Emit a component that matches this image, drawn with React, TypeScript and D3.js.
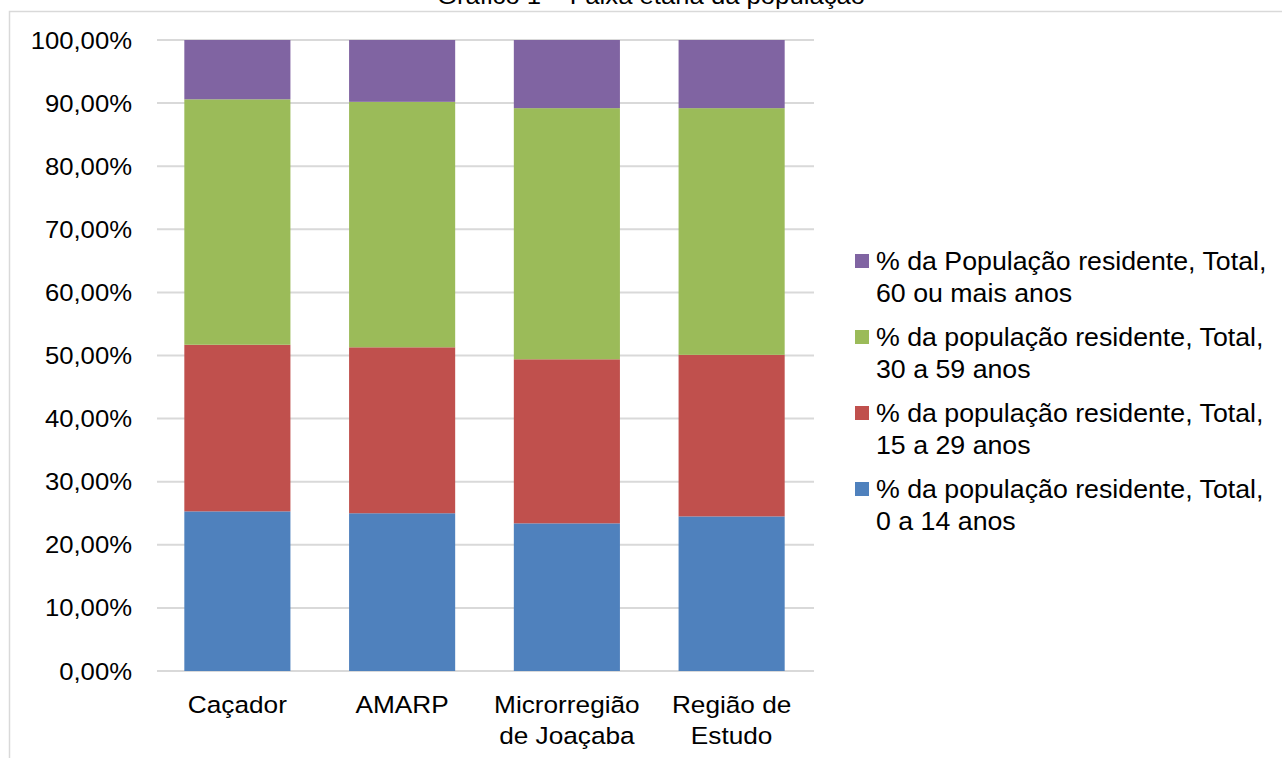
import React from "react";
import * as d3 from "d3";

const categories: string[][] = [["Caçador"], ["AMARP"], ["Microrregião", "de Joaçaba"], ["Região de", "Estudo"]];
const seriesNames: string[][] = [
  ["% da população residente, Total,", "0 a 14 anos"],
  ["% da população residente, Total,", "15 a 29 anos"],
  ["% da população residente, Total,", "30 a 59 anos"],
  ["% da População residente, Total,", "60 ou mais anos"],
];
const colors = ["#4f81bd", "#c0504d", "#9bbb59", "#8064a2"];
const age0to14 = [25.3, 25.0, 23.4, 24.5];
const age15to29 = [26.4, 26.3, 26.0, 25.6];
const age30to59 = [38.9, 38.9, 39.8, 39.1];
const age60plus = [9.4, 9.8, 10.8, 10.8];
const tickValues = [0, 10, 20, 30, 40, 50, 60, 70, 80, 90, 100];
const title = "Gráfico 1 – Faixa etária da população";

const W = 1282, H = 758;
const FONT = "Arial, 'Liberation Sans', sans-serif";
const FS = 24;
const SX = 1.07;

export default function App() {
  const left = 155, right = 814, top = 40, bottom = 671;
  const x = d3.scaleBand<number>().domain(d3.range(categories.length)).range([left, right]).paddingInner(0.356).paddingOuter(0.178);
  const y = d3.scaleLinear().domain([0, 100]).range([bottom, top]);
  const series = [age0to14, age15to29, age30to59, age60plus];
  const rows = categories.map((_, i) => ({ i, s0: series[0][i], s1: series[1][i], s2: series[2][i], s3: series[3][i] }));
  const stack = d3.stack<any>().keys(["s0", "s1", "s2", "s3"]);
  const stacked = stack(rows);
  const fmt = (v: number) => v.toFixed(2).replace(".", ",") + "%";
  const T = (px: number, py: number, txt: string, anchor: string, key: any, fs: number = FS, sx: number = SX) => (
    <g key={key} transform={`translate(${px},${py}) scale(${sx},1)`}>
      <text textAnchor={anchor as any} fontSize={fs} fontFamily={FONT} fill="#000">{txt}</text>
    </g>
  );
  return (
    <svg width={W} height={H} style={{ position: "absolute", left: 0, top: 0 }}>
      <rect x={0} y={0} width={W} height={H} fill="#fff" />
      <rect x={9.5} y={11.5} width={W + 20} height={H + 20} fill="none" stroke="#d9d9d9" strokeWidth={1.5} />
      {T(651, 4, title, "middle", "title")}
      {tickValues.map((t) => (
        <line key={"g" + t} x1={left + 2} x2={right} y1={y(t)} y2={y(t)} stroke="#d9d9d9" strokeWidth={2} />
      ))}
      {tickValues.map((t) => T(132, y(t) + 8.5, fmt(t), "end", "t" + t))}
      {stacked.map((layer, si) => (
        <g key={"s" + si} fill={colors[si]}>
          {layer.map((d, ci) => (
            <rect key={ci} x={x(ci)} width={x.bandwidth()} y={y(d[1])} height={y(d[0]) - y(d[1])} />
          ))}
        </g>
      ))}
      {categories.map((lines, ci) =>
        lines.map((ln, li) => T((x(ci) as number) + x.bandwidth() / 2, 713 + li * 31, ln, "middle", `c${ci}-${li}`, 24.5))
      )}
      {[3, 2, 1, 0].map((si, k) => {
        const cy = 261 + k * 76;
        return (
          <g key={"l" + si}>
            <rect x={855} y={cy - 7} width={14} height={14} fill={colors[si]} />
            {T(876, cy + 9, seriesNames[si][0], "start", "l0", 25)}
            {T(876, cy + 41, seriesNames[si][1], "start", "l1", 25)}
          </g>
        );
      })}
    </svg>
  );
}
